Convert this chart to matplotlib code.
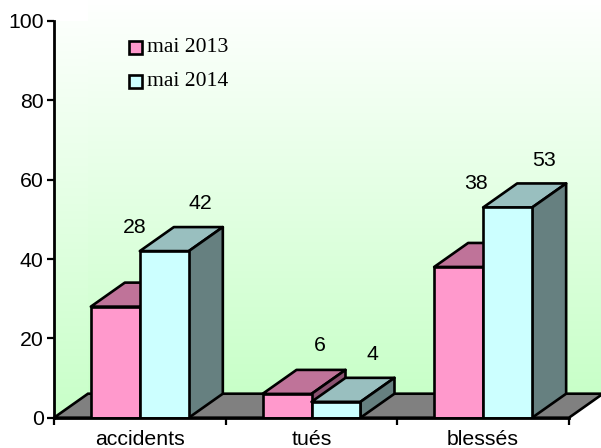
import matplotlib
matplotlib.use('Agg')
import matplotlib.pyplot as plt
from matplotlib.patches import Polygon, Rectangle
import numpy as np

categories = ['accidents', 'tués', 'blessés']
series_names = ['mai 2013', 'mai 2014']
mai_2013 = [28, 6, 38]
mai_2014 = [42, 4, 53]
y_ticks = [0, 20, 40, 60, 80, 100]

# pixel shift of the value labels, some were moved by hand in the original
label_shift_2013 = [(19, 79), (33, 48), (17, 83)]
label_shift_2014 = [(36, 48), (36, 47), (36, 47)]

front = ['#ff99cc', '#ccffff']
top = ['#bf7399', '#99bfbf']
side = ['#8a5270', '#668080']
EDGE = 'black'
LW = 1.9
FS = 15.3

plt.rcParams['font.family'] = ['Liberation Sans', 'DejaVu Sans']

fig = plt.figure(figsize=(6.01, 4.48), dpi=100)
ax = fig.add_axes([54 / 601, (448 - 417.7) / 448, (569 - 54) / 601, (417.7 - 21) / 448])
ax.set_xlim(-0.5, 2.5)
ax.set_ylim(0, 100)

# depth of the fake 3d, in data units
dx = 34 / 171.7
dy = 24 / 3.967
bar_w = 49 / 171.7

# walls with the white to green gradient
grad = np.linspace(0, 1, 256).reshape(-1, 1)
cmap = matplotlib.colors.LinearSegmentedColormap.from_list('wall', ['#c8ffc8', '#ffffff'])
back = ax.imshow(grad, origin='lower', cmap=cmap, aspect='auto', zorder=0,
                 extent=(-0.5 + dx, 2.5 + dx, dy, 100 + dy), clip_on=False)
left = ax.imshow(grad, origin='lower', cmap=cmap, aspect='auto', zorder=0,
                 extent=(-0.5, -0.5 + dx, 0, 100 + dy))
left_clip = Polygon([(-0.5, 0), (-0.5 + dx, dy), (-0.5 + dx, 100 + dy), (-0.5, 100)],
                    transform=ax.transData)
left.set_clip_path(left_clip)
ax.set_xlim(-0.5, 2.5)
ax.set_ylim(0, 100)

# floor
ax.add_patch(Polygon([(-0.5, 0), (2.5, 0), (2.5 + dx, dy), (-0.5 + dx, dy)], closed=True,
                     facecolor='#808080', edgecolor=EDGE, lw=LW, clip_on=False, zorder=1))


def bar3d(x0, h, i, z):
    x1 = x0 + bar_w
    ax.add_patch(Polygon([(x0, h), (x1, h), (x1 + dx, h + dy), (x0 + dx, h + dy)], closed=True,
                         facecolor=top[i], edgecolor=EDGE, lw=LW, joinstyle='round', zorder=z))
    ax.add_patch(Polygon([(x1, 0), (x1 + dx, dy), (x1 + dx, h + dy), (x1, h)], closed=True,
                         facecolor=side[i], edgecolor=EDGE, lw=LW, joinstyle='round', zorder=z))
    ax.add_patch(Rectangle((x0, 0), bar_w, h, facecolor=front[i], edgecolor=EDGE, lw=LW,
                           joinstyle='round', zorder=z))


for k in range(len(categories)):
    bar3d(k - bar_w, mai_2013[k], 0, 2 + k)
    bar3d(k, mai_2014[k], 1, 2.5 + k)
    for val, x, shift in [(mai_2013[k], k - bar_w / 2, label_shift_2013[k]),
                          (mai_2014[k], k + bar_w / 2, label_shift_2014[k])]:
        ax.annotate(str(val), (x, val), xytext=(shift[0] * 0.72, shift[1] * 0.72),
                    textcoords='offset points', ha='center', va='center',
                    fontsize=FS, color='black', zorder=10, annotation_clip=False)

# legend
for i, name in enumerate(series_names):
    ypix = 47.5 + 34 * i
    ax.add_patch(Rectangle((128.5 / 601, 1 - (ypix + 6.5) / 448), 13.5 / 601, 13 / 448,
                           transform=fig.transFigure, facecolor=front[i], edgecolor=EDGE,
                           lw=LW, zorder=10, clip_on=False))
    fig.text(147 / 601, 1 - (ypix + 0.5) / 448, name, family='Liberation Serif', fontsize=15.6,
             ha='left', va='center', color='black')

for s in ['top', 'right']:
    ax.spines[s].set_visible(False)
for s in ['left', 'bottom']:
    ax.spines[s].set_linewidth(2.0)
    ax.spines[s].set_zorder(9)

ax.set_yticks(y_ticks)
ax.tick_params(axis='y', length=5, width=1.6, labelsize=FS, pad=2.5)
ax.set_xticks([-0.5, 0.5, 1.5, 2.5])
ax.set_xticklabels([])
ax.set_xticks([0, 1, 2], minor=True)
ax.set_xticklabels(categories, minor=True)
ax.tick_params(axis='x', which='major', length=5, width=1.6)
ax.tick_params(axis='x', which='minor', length=0, labelsize=FS, pad=8.5)

fig.savefig('out.png', dpi=100)
